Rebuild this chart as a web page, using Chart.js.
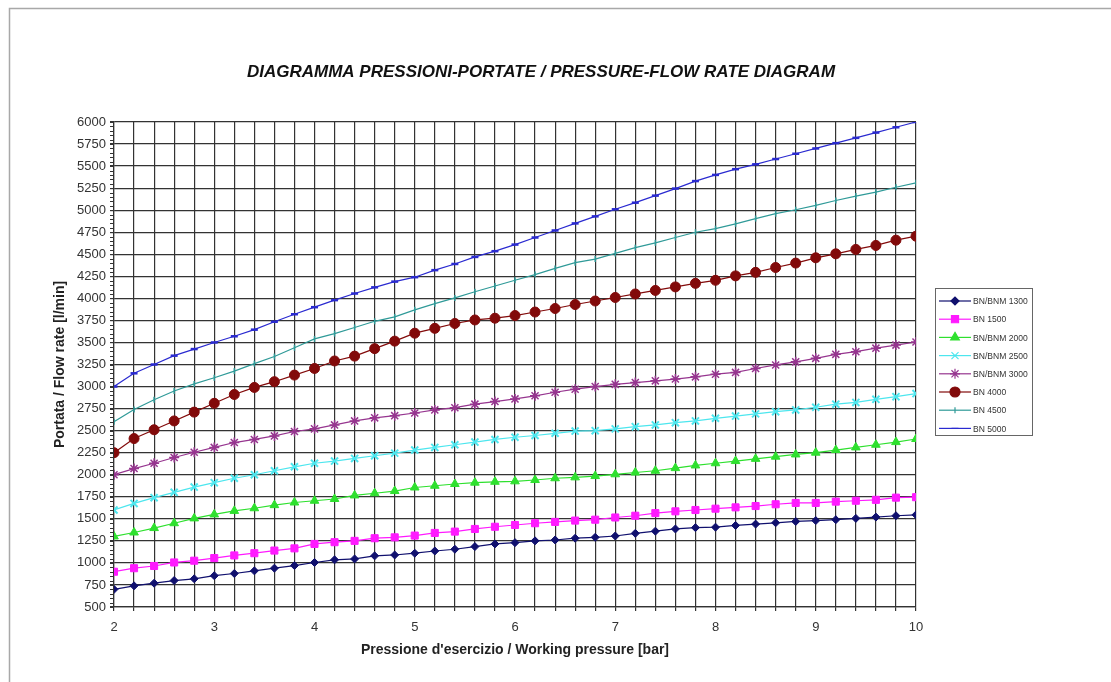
<!DOCTYPE html>
<html>
<head>
<meta charset="utf-8">
<script src="https://cdn.jsdelivr.net/npm/chart.js@4/dist/chart.umd.min.js"></script>
<style>
  html, body { margin: 0; padding: 0; background: #fff; }
  #wrap { width: 1111px; height: 682px; position: relative; }
</style>
</head>
<body>
<div id="wrap"><canvas id="grafico" width="1111" height="682"></canvas></div>
<script>
const titolo = 'DIAGRAMMA PRESSIONI-PORTATE / PRESSURE-FLOW RATE DIAGRAM';
const titoloX = 'Pressione d\'esercizio / Working pressure [bar]';
const titoloY = 'Portata / Flow rate [l/min]';

// pressione [bar]
const pressione = [2, 2.2, 2.4, 2.6, 2.8, 3, 3.2, 3.4, 3.6, 3.8, 4, 4.2, 4.4, 4.6, 4.8,
  5, 5.2, 5.4, 5.6, 5.8, 6, 6.2, 6.4, 6.6, 6.8, 7, 7.2, 7.4, 7.6, 7.8,
  8, 8.2, 8.4, 8.6, 8.8, 9, 9.2, 9.4, 9.6, 9.8, 10];

const serie = ['BN/BNM 1300', 'BN 1500', 'BN/BNM 2000', 'BN/BNM 2500', 'BN/BNM 3000', 'BN 4000', 'BN 4500', 'BN 5000'];

// portata [l/min]
const bnm1300 = [700, 740, 770, 800, 820, 855, 880, 910, 940, 970, 1005, 1035, 1045, 1080, 1090,
  1110, 1135, 1155, 1185, 1215, 1230, 1250, 1260, 1280, 1290, 1305, 1335, 1360, 1385, 1400,
  1405, 1425, 1440, 1455, 1470, 1480, 1490, 1505, 1520, 1535, 1545];
const bn1500 = [900, 940, 965, 1005, 1025, 1055, 1085, 1110, 1140, 1165, 1215, 1235, 1250, 1280, 1290,
  1310, 1340, 1355, 1385, 1410, 1430, 1450, 1465, 1480, 1490, 1515, 1535, 1565, 1585, 1600,
  1615, 1630, 1645, 1665, 1680, 1680, 1695, 1705, 1715, 1740, 1745];
const bnm2000 = [1300, 1345, 1395, 1450, 1505, 1550, 1590, 1620, 1655, 1685, 1705, 1725, 1765, 1790, 1815,
  1855, 1875, 1895, 1910, 1920, 1925, 1940, 1960, 1970, 1985, 2005, 2025, 2045, 2075, 2105,
  2130, 2155, 2180, 2205, 2230, 2250, 2280, 2310, 2340, 2370, 2405];
const bnm2500 = [1600, 1675, 1740, 1800, 1860, 1910, 1960, 2000, 2045, 2090, 2130, 2155, 2185, 2215, 2245,
  2280, 2310, 2340, 2370, 2400, 2425, 2445, 2470, 2495, 2500, 2520, 2545, 2565, 2590, 2610,
  2640, 2665, 2690, 2715, 2735, 2765, 2800, 2820, 2855, 2885, 2920];
const bnm3000 = [2000, 2070, 2130, 2195, 2255, 2310, 2365, 2400, 2440, 2490, 2520, 2565, 2610, 2645, 2670,
  2700, 2735, 2760, 2800, 2830, 2860, 2895, 2935, 2970, 3000, 3025, 3045, 3065, 3085, 3110,
  3140, 3160, 3205, 3245, 3280, 3320, 3365, 3395, 3435, 3470, 3505];
const bn4000 = [2250, 2410, 2510, 2610, 2710, 2810, 2910, 2990, 3055, 3130, 3205, 3290, 3345, 3430, 3515,
  3605, 3660, 3715, 3755, 3775, 3805, 3845, 3885, 3930, 3970, 4010, 4050, 4090, 4130, 4170,
  4205, 4255, 4295, 4350, 4400, 4460, 4505, 4555, 4600, 4660, 4705];
const bn4500 = [2600, 2740, 2850, 2950, 3030, 3100, 3175, 3260, 3340, 3440, 3540, 3600, 3670, 3740, 3790,
  3870, 3940, 4005, 4075, 4140, 4205, 4270, 4340, 4405, 4445, 4510, 4575, 4630, 4690, 4750,
  4790, 4845, 4905, 4960, 5005, 5055, 5110, 5160, 5205, 5260, 5310];
const bn5000 = [3000, 3150, 3250, 3350, 3425, 3500, 3570, 3645, 3735, 3820, 3900, 3980, 4055, 4125, 4190,
  4240, 4320, 4390, 4470, 4535, 4610, 4690, 4770, 4850, 4930, 5010, 5085, 5165, 5245, 5330,
  5400, 5465, 5520, 5580, 5640, 5700, 5760, 5820, 5880, 5940, 6000];

const valori = [bnm1300, bn1500, bnm2000, bnm2500, bnm3000, bn4000, bn4500, bn5000];
const colori = ['#10106e', '#ff1aff', '#2ee02e', '#4de6ee', '#96358f', '#820a0a', '#2f9a98', '#2a2ad0'];
const marcatori = [
  { style: 'rectRot', r: 4, bw: 1, rot: 0 },
  { style: 'rect', r: 5, bw: 1, rot: 0 },
  { style: 'triangle', r: 5, bw: 1, rot: 0 },
  { style: 'crossRot', r: 5, bw: 2, rot: 0 },
  { style: 'star', r: 5, bw: 1.5, rot: 0 },
  { style: 'circle', r: 5, bw: 1, rot: 0 },
  { style: 'line', r: 3, bw: 1.5, rot: 90 },
  { style: 'line', r: 3.5, bw: 2.5, rot: 0 }
];

const FONT = '"Liberation Sans", Arial, sans-serif';
const GRIGLIA = '#333';

const datasets = serie.map((nome, i) => ({
  label: nome,
  data: pressione.map((p, j) => ({ x: p, y: valori[i][j] })),
  borderColor: colori[i],
  backgroundColor: colori[i],
  borderWidth: 1.2,
  tension: 0,
  pointStyle: marcatori[i].style,
  pointRadius: marcatori[i].r,
  pointBorderWidth: marcatori[i].bw,
  pointRotation: marcatori[i].rot,
  pointBackgroundColor: colori[i],
  pointBorderColor: colori[i]
}));

// cornice, titolo, tacche secondarie e legenda
const extra = {
  id: 'extra',
  beforeDraw(chart) {
    const ctx = chart.ctx;
    ctx.save();
    ctx.strokeStyle = '#a8a8a8';
    ctx.lineWidth = 1.5;
    ctx.beginPath();
    ctx.moveTo(9.5, 682);
    ctx.lineTo(9.5, 8.5);
    ctx.lineTo(1111, 8.5);
    ctx.stroke();
    ctx.restore();
  },
  afterDraw(chart) {
    const ctx = chart.ctx;
    const y = chart.scales.y;
    ctx.save();
    // titolo
    ctx.fillStyle = '#111';
    ctx.font = 'italic bold 17px ' + FONT;
    ctx.textAlign = 'center';
    ctx.textBaseline = 'middle';
    ctx.fillText(titolo, 541, 72);

    // tacche secondarie asse y
    ctx.strokeStyle = GRIGLIA;
    ctx.lineWidth = 1;
    for (let v = y.min; v <= y.max; v += 50) {
      const py = Math.round(y.getPixelForValue(v)) + 0.5;
      ctx.beginPath();
      ctx.moveTo(y.right - 4, py);
      ctx.lineTo(y.right, py);
      ctx.stroke();
    }

    // legenda
    const lx = 935, ly = 288, lw = 97, lh = 147;
    ctx.fillStyle = '#fff';
    ctx.fillRect(lx, ly, lw, lh);
    ctx.strokeStyle = '#666';
    ctx.lineWidth = 1;
    ctx.strokeRect(lx + 0.5, ly + 0.5, lw, lh);
    ctx.font = '9.5px ' + FONT;
    ctx.textAlign = 'left';
    ctx.textBaseline = 'middle';
    chart.data.datasets.forEach((ds, i) => {
      const ry = 301 + i * 18.2;
      ctx.strokeStyle = ds.borderColor;
      ctx.fillStyle = ds.borderColor;
      ctx.lineWidth = 1.2;
      ctx.beginPath();
      ctx.moveTo(lx + 4, ry);
      ctx.lineTo(lx + 36, ry);
      ctx.stroke();
      Chart.helpers.drawPoint(ctx, {
        pointStyle: ds.pointStyle,
        radius: ds.pointRadius,
        borderWidth: ds.pointBorderWidth,
        rotation: ds.pointRotation
      }, lx + 20, ry);
      ctx.fillStyle = '#333';
      ctx.save();
      ctx.translate(lx + 38, ry);
      ctx.scale(0.9, 1);
      ctx.fillText(ds.label, 0, 0.5);
      ctx.restore();
    });
    ctx.restore();
  }
};

new Chart(document.getElementById('grafico').getContext('2d'), {
  type: 'line',
  data: { datasets },
  options: {
    responsive: false,
    animation: false,
    layout: { padding: { left: 0, right: 195, top: 122, bottom: 0 } },
    plugins: {
      legend: { display: false },
      title: { display: false },
      tooltip: { enabled: false }
    },
    scales: {
      x: {
        type: 'linear',
        min: 2,
        max: 10,
        afterFit: s => { s.height = 75; },
        ticks: {
          stepSize: 0.2,
          autoSkip: false,
          maxRotation: 0,
          padding: 9,
          color: '#333',
          font: { family: FONT, size: 13 },
          callback: v => Math.abs(v - Math.round(v)) < 1e-6 ? String(Math.round(v)) : ''
        },
        grid: { color: GRIGLIA, lineWidth: 1.2, tickLength: 4, tickColor: GRIGLIA },
        border: { color: GRIGLIA, width: 1.2 },
        title: {
          display: true,
          text: titoloX,
          color: '#222',
          font: { family: FONT, size: 14, weight: 'bold' },
          padding: { top: 0, bottom: 23 }
        }
      },
      y: {
        type: 'linear',
        min: 500,
        max: 6000,
        afterFit: s => { s.width = 114; },
        ticks: {
          stepSize: 250,
          autoSkip: false,
          padding: 4,
          color: '#333',
          font: { family: FONT, size: 13 },
          callback: v => String(v)
        },
        grid: { color: GRIGLIA, lineWidth: 1.2, tickLength: 4, tickColor: GRIGLIA },
        border: { color: GRIGLIA, width: 1.2 },
        title: {
          display: true,
          text: titoloY,
          color: '#222',
          font: { family: FONT, size: 14, weight: 'bold' },
          padding: { top: 52, bottom: 0 }
        }
      }
    }
  },
  plugins: [extra]
});
</script>
</body>
</html>
